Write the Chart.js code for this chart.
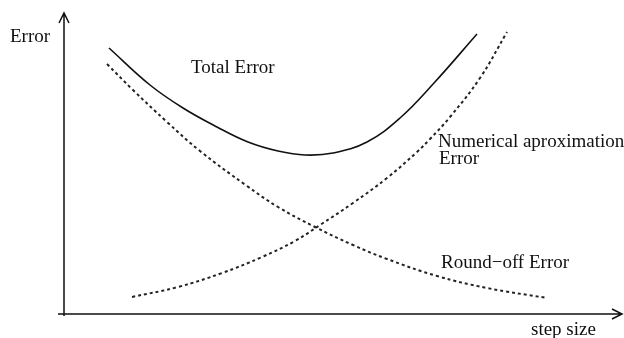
<!DOCTYPE html>
<html>
<head>
<meta charset="utf-8">
<script src="https://cdn.jsdelivr.net/npm/chart.js@4/dist/chart.umd.min.js"></script>
<style>
  html, body { margin: 0; padding: 0; background: #fff; }
  #wrap { width: 624px; height: 338px; position: relative; }
</style>
</head>
<body>
<div id="wrap"><canvas id="errorChart"></canvas></div>
<script>
// values (step size -> error, arbitrary units)
const totalStep = [45, 86, 119, 153, 184, 214, 241, 269, 303, 336, 370, 413];
const totalErr  = [266, 229, 206, 187, 172, 163, 159, 161, 172, 196, 231, 280];

const approxStep = [68, 114, 158, 198, 231, 256, 289, 323, 353, 366, 386, 416, 443];
const approxErr  = [17, 27, 41, 57, 73, 89, 111, 136, 162, 175, 197, 236, 282];

const roundStep = [43, 69, 103, 136, 183, 214, 251, 289, 323, 373, 423, 483];
const roundErr  = [250, 224, 192, 163, 128, 107, 87, 69, 55, 38, 26, 16];

const xLabel = "step size";
const yLabel = "Error";

const toPoints = (xs, ys) => xs.map((x, i) => ({ x: x, y: ys[i] }));

const FONT = '19px "Liberation Serif", "Times New Roman", serif';

// axes with arrow heads + free text labels
const sketchPlugin = {
  id: 'sketch',
  afterDraw(chart) {
    const ctx = chart.ctx;
    const a = chart.chartArea;
    const x0 = a.left, y0 = a.bottom;
    ctx.save();
    ctx.strokeStyle = '#111';
    ctx.lineWidth = 1.5;
    ctx.beginPath();
    // y axis
    ctx.moveTo(x0, y0 + 2);
    ctx.lineTo(x0, a.top + 1);
    ctx.moveTo(x0 - 5, a.top + 11);
    ctx.lineTo(x0, a.top + 1);
    ctx.lineTo(x0 + 5, a.top + 11);
    // x axis
    ctx.moveTo(x0 - 6, y0);
    ctx.lineTo(a.right - 2, y0);
    ctx.moveTo(a.right - 12, y0 - 5);
    ctx.lineTo(a.right - 2, y0);
    ctx.lineTo(a.right - 12, y0 + 5);
    ctx.stroke();

    ctx.fillStyle = '#111';
    ctx.font = FONT;
    ctx.textBaseline = 'alphabetic';
    ctx.textAlign = 'left';
    ctx.fillText(yLabel, 10, 42);
    ctx.fillText(xLabel, 531, 335);
    ctx.fillText("Total Error", 191, 73);
    ctx.fillText("Numerical aproximation", 438, 147);
    ctx.fillText("Error", 439, 164);
    ctx.fillText("Round\u2212off Error", 441, 268);
    ctx.restore();
  }
};

const dotted = {
  borderColor: '#222',
  borderWidth: 2,
  borderDash: [3, 3],
  pointRadius: 0,
  showLine: true,
  fill: false,
  tension: 0.4
};

new Chart(document.getElementById('errorChart'), {
  type: 'scatter',
  data: {
    datasets: [
      {
        label: 'Total Error',
        data: toPoints(totalStep, totalErr),
        borderColor: '#111',
        borderWidth: 1.6,
        pointRadius: 0,
        showLine: true,
        fill: false,
        tension: 0.4
      },
      Object.assign({ label: 'Numerical aproximation Error', data: toPoints(approxStep, approxErr) }, dotted),
      Object.assign({ label: 'Round-off Error', data: toPoints(roundStep, roundErr) }, dotted)
    ]
  },
  options: {
    responsive: true,
    maintainAspectRatio: false,
    animation: false,
    layout: { padding: { left: 64, right: 0, top: 12, bottom: 24 } },
    scales: {
      x: { type: 'linear', min: 0, max: 560, display: false },
      y: { type: 'linear', min: 0, max: 302, display: false }
    },
    plugins: {
      legend: { display: false },
      tooltip: { enabled: false }
    }
  },
  plugins: [sketchPlugin]
});
</script>
</body>
</html>
